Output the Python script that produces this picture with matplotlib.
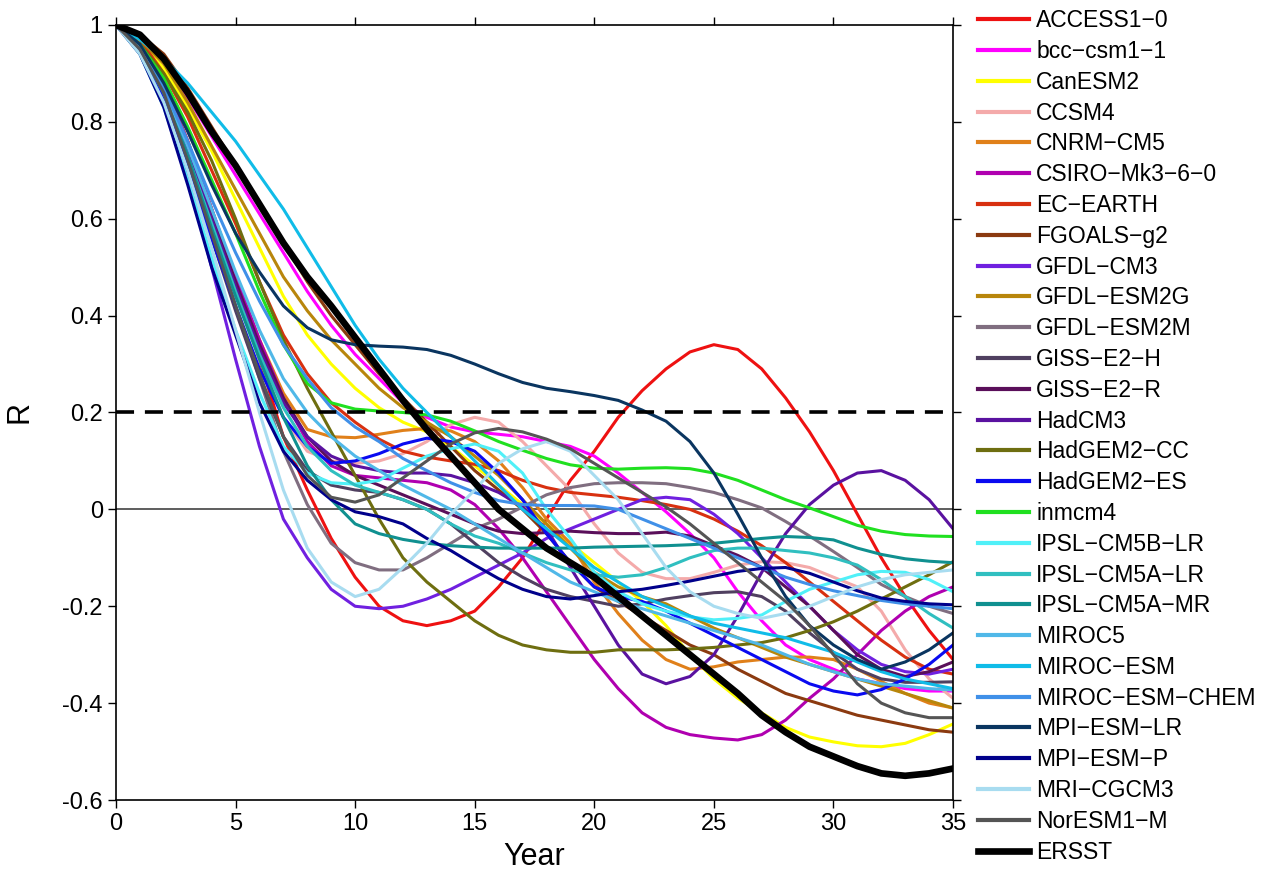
import numpy as np
import matplotlib.pyplot as plt
from matplotlib.ticker import FormatStrFormatter

plt.rcParams['font.family'] = ['Liberation Sans', 'DejaVu Sans']

years = np.arange(0, 36)

# lagged correlation, one list per model (years 0..35)
access10 = [1.0, 0.96, 0.88, 0.76, 0.62, 0.47, 0.31, 0.15, 0.04, -0.06, -0.14, -0.2, -0.23, -0.24, -0.23, -0.21, -0.16, -0.1,
            -0.02, 0.06, 0.12, 0.19, 0.245, 0.29, 0.325, 0.34, 0.33, 0.29, 0.23, 0.16, 0.08, -0.01, -0.1, -0.18, -0.25, -0.31]
bcc = [1.0, 0.97, 0.92, 0.85, 0.77, 0.69, 0.61, 0.53, 0.45, 0.38, 0.32, 0.27, 0.22, 0.19, 0.17, 0.16, 0.155, 0.15,
       0.14, 0.13, 0.11, 0.075, 0.035, -0.005, -0.05, -0.1, -0.17, -0.23, -0.28, -0.31, -0.33, -0.35, -0.36, -0.37, -0.375, -0.375]
canesm2 = [1.0, 0.97, 0.91, 0.83, 0.74, 0.64, 0.54, 0.44, 0.36, 0.3, 0.25, 0.21, 0.18, 0.16, 0.13, 0.09, 0.05, 0.01,
           -0.03, -0.07, -0.11, -0.15, -0.19, -0.24, -0.3, -0.35, -0.39, -0.42, -0.45, -0.47, -0.48, -0.488, -0.49, -0.483, -0.465, -0.443]
ccsm4 = [1.0, 0.96, 0.88, 0.75, 0.6, 0.45, 0.31, 0.19, 0.12, 0.1, 0.095, 0.1, 0.115, 0.14, 0.175, 0.19, 0.18, 0.14,
         0.09, 0.04, -0.03, -0.09, -0.13, -0.143, -0.143, -0.13, -0.115, -0.108, -0.11, -0.12, -0.14, -0.16, -0.21, -0.29, -0.35, -0.39]
cnrm = [1.0, 0.96, 0.88, 0.76, 0.62, 0.48, 0.35, 0.24, 0.165, 0.15, 0.148, 0.155, 0.163, 0.167, 0.162, 0.14, 0.1, 0.045,
        -0.02, -0.07, -0.15, -0.215, -0.27, -0.31, -0.33, -0.325, -0.315, -0.31, -0.305, -0.305, -0.31, -0.33, -0.355, -0.38, -0.4, -0.41]
csiro = [1.0, 0.96, 0.88, 0.76, 0.62, 0.48, 0.35, 0.23, 0.14, 0.09, 0.07, 0.065, 0.06, 0.055, 0.04, 0.01, -0.04, -0.1,
         -0.17, -0.24, -0.31, -0.37, -0.42, -0.45, -0.465, -0.472, -0.476, -0.465, -0.435, -0.39, -0.35, -0.3, -0.25, -0.21, -0.18, -0.16]
ecearth = [1.0, 0.97, 0.9, 0.81, 0.7, 0.59, 0.47, 0.36, 0.28, 0.22, 0.18, 0.145, 0.12, 0.108, 0.1, 0.093, 0.08, 0.06,
           0.045, 0.035, 0.03, 0.025, 0.018, 0.01, 0.0, -0.02, -0.045, -0.075, -0.11, -0.15, -0.19, -0.23, -0.27, -0.305, -0.33, -0.34]
fgoals = [1.0, 0.98, 0.94, 0.87, 0.79, 0.71, 0.63, 0.55, 0.47, 0.4, 0.34, 0.28, 0.23, 0.18, 0.13, 0.08, 0.04, 0.0,
          -0.05, -0.11, -0.16, -0.19, -0.22, -0.25, -0.28, -0.3, -0.33, -0.355, -0.38, -0.395, -0.41, -0.425, -0.435, -0.445, -0.455, -0.46]
gfdl_cm3 = [1.0, 0.95, 0.85, 0.69, 0.5, 0.31, 0.13, -0.02, -0.1, -0.165, -0.2, -0.205, -0.2, -0.185, -0.165, -0.14, -0.115, -0.09,
            -0.06, -0.04, -0.02, 0.0, 0.02, 0.025, 0.02, -0.01, -0.05, -0.1, -0.15, -0.2, -0.25, -0.29, -0.32, -0.335, -0.34, -0.33]
gfdl_esm2g = [1.0, 0.97, 0.92, 0.84, 0.75, 0.66, 0.57, 0.48, 0.41, 0.35, 0.3, 0.25, 0.21, 0.18, 0.15, 0.11, 0.07, 0.02,
              -0.03, -0.08, -0.13, -0.16, -0.18, -0.195, -0.22, -0.245, -0.265, -0.285, -0.305, -0.32, -0.335, -0.35, -0.365, -0.38, -0.395, -0.41]
gfdl_esm2m = [1.0, 0.95, 0.86, 0.72, 0.57, 0.42, 0.27, 0.12, 0.01, -0.07, -0.11, -0.125, -0.125, -0.1, -0.07, -0.04, -0.02, 0.005,
              0.03, 0.045, 0.053, 0.055, 0.055, 0.053, 0.045, 0.035, 0.02, 0.003, -0.025, -0.055, -0.087, -0.12, -0.155, -0.18, -0.2, -0.215]
giss_h = [1.0, 0.95, 0.85, 0.71, 0.56, 0.41, 0.27, 0.15, 0.08, 0.05, 0.04, 0.035, 0.02, 0.0, -0.03, -0.07, -0.11, -0.14,
          -0.165, -0.18, -0.19, -0.2, -0.195, -0.185, -0.178, -0.172, -0.17, -0.18, -0.21, -0.255, -0.295, -0.33, -0.35, -0.357, -0.357, -0.356]
giss_r = [1.0, 0.96, 0.87, 0.75, 0.61, 0.47, 0.34, 0.23, 0.15, 0.1, 0.07, 0.05, 0.03, 0.01, -0.01, -0.03, -0.045, -0.05,
          -0.048, -0.045, -0.048, -0.05, -0.05, -0.047, -0.055, -0.075, -0.095, -0.12, -0.16, -0.2, -0.25, -0.3, -0.33, -0.345, -0.335, -0.315]
hadcm3 = [1.0, 0.96, 0.87, 0.74, 0.6, 0.46, 0.33, 0.22, 0.15, 0.11, 0.09, 0.08, 0.075, 0.075, 0.07, 0.055, 0.035, 0.005,
          -0.04, -0.12, -0.2, -0.28, -0.34, -0.36, -0.345, -0.3, -0.22, -0.13, -0.05, 0.01, 0.05, 0.075, 0.08, 0.06, 0.02, -0.04]
hadgem2_cc = [1.0, 0.96, 0.9, 0.82, 0.72, 0.6, 0.47, 0.35, 0.25, 0.16, 0.07, -0.02, -0.1, -0.15, -0.19, -0.23, -0.26, -0.28,
              -0.29, -0.295, -0.295, -0.29, -0.29, -0.29, -0.288, -0.285, -0.28, -0.275, -0.265, -0.25, -0.232, -0.21, -0.185, -0.16, -0.135, -0.108]
hadgem2_es = [1.0, 0.95, 0.85, 0.71, 0.56, 0.42, 0.29, 0.19, 0.13, 0.095, 0.1, 0.115, 0.135, 0.147, 0.14, 0.12, 0.075, 0.02,
              -0.05, -0.11, -0.16, -0.18, -0.19, -0.21, -0.235, -0.26, -0.285, -0.31, -0.335, -0.36, -0.375, -0.383, -0.372, -0.35, -0.32, -0.28]
inmcm4 = [1.0, 0.96, 0.89, 0.79, 0.68, 0.57, 0.45, 0.34, 0.26, 0.22, 0.207, 0.203, 0.2, 0.195, 0.182, 0.162, 0.14, 0.122,
          0.105, 0.092, 0.085, 0.083, 0.085, 0.086, 0.084, 0.075, 0.06, 0.04, 0.02, 0.003, -0.015, -0.033, -0.045, -0.052, -0.055, -0.056]
ipsl_5b_lr = [1.0, 0.94, 0.83, 0.68, 0.52, 0.37, 0.24, 0.13, 0.075, 0.055, 0.052, 0.06, 0.085, 0.11, 0.125, 0.135, 0.12, 0.075,
              0.0, -0.06, -0.13, -0.17, -0.195, -0.21, -0.222, -0.228, -0.225, -0.218, -0.19, -0.165, -0.15, -0.135, -0.128, -0.13, -0.145, -0.17]
ipsl_5a_lr = [1.0, 0.95, 0.86, 0.73, 0.59, 0.45, 0.32, 0.21, 0.13, 0.08, 0.05, 0.035, 0.02, 0.0, -0.03, -0.055, -0.07, -0.09,
              -0.11, -0.125, -0.135, -0.14, -0.135, -0.12, -0.1, -0.085, -0.08, -0.08, -0.085, -0.09, -0.1, -0.115, -0.145, -0.18, -0.215, -0.245]
ipsl_5a_mr = [1.0, 0.95, 0.86, 0.73, 0.58, 0.44, 0.31, 0.19, 0.09, 0.02, -0.03, -0.05, -0.062, -0.07, -0.075, -0.078, -0.08, -0.08,
              -0.08, -0.08, -0.078, -0.077, -0.076, -0.075, -0.073, -0.07, -0.065, -0.06, -0.056, -0.058, -0.063, -0.08, -0.093, -0.102, -0.107, -0.11]
miroc5 = [1.0, 0.95, 0.87, 0.75, 0.62, 0.49, 0.37, 0.27, 0.2, 0.15, 0.11, 0.08, 0.05, 0.025, 0.0, -0.03, -0.06, -0.09,
          -0.12, -0.15, -0.17, -0.19, -0.205, -0.22, -0.235, -0.25, -0.265, -0.28, -0.3, -0.32, -0.335, -0.35, -0.36, -0.365, -0.37, -0.373]
miroc_esm = [1.0, 0.97, 0.93, 0.88, 0.82, 0.76, 0.69, 0.62, 0.54, 0.46, 0.38, 0.31, 0.25, 0.2, 0.15, 0.1, 0.05, 0.0,
             -0.04, -0.08, -0.12, -0.15, -0.18, -0.2, -0.22, -0.235, -0.245, -0.255, -0.265, -0.28, -0.295, -0.315, -0.335, -0.35, -0.36, -0.37]
miroc_chem = [1.0, 0.95, 0.87, 0.76, 0.64, 0.53, 0.43, 0.34, 0.27, 0.21, 0.17, 0.14, 0.105, 0.08, 0.055, 0.035, 0.018, 0.01,
              0.008, 0.008, 0.007, 0.0, -0.02, -0.04, -0.06, -0.08, -0.1, -0.12, -0.14, -0.155, -0.168, -0.178, -0.188, -0.195, -0.2, -0.205]
mpi_lr = [1.0, 0.96, 0.88, 0.78, 0.67, 0.57, 0.49, 0.42, 0.375, 0.35, 0.34, 0.337, 0.335, 0.33, 0.318, 0.3, 0.28, 0.262,
          0.25, 0.243, 0.235, 0.225, 0.205, 0.182, 0.14, 0.075, -0.01, -0.1, -0.18, -0.24, -0.28, -0.31, -0.33, -0.315, -0.29, -0.255]
mpi_p = [1.0, 0.94, 0.83, 0.67, 0.5, 0.36, 0.22, 0.12, 0.06, 0.02, -0.005, -0.015, -0.03, -0.06, -0.085, -0.115, -0.143, -0.165,
         -0.18, -0.185, -0.178, -0.17, -0.165, -0.157, -0.148, -0.138, -0.128, -0.122, -0.12, -0.132, -0.15, -0.168, -0.183, -0.19, -0.195, -0.197]
mri = [1.0, 0.94, 0.84, 0.7, 0.54, 0.37, 0.2, 0.04, -0.08, -0.15, -0.18, -0.165, -0.12, -0.07, -0.01, 0.04, 0.095, 0.125,
       0.14, 0.12, 0.07, 0.02, -0.05, -0.12, -0.17, -0.2, -0.215, -0.225, -0.215, -0.2, -0.18, -0.16, -0.145, -0.135, -0.13, -0.125]
noresm = [1.0, 0.95, 0.86, 0.72, 0.57, 0.42, 0.28, 0.15, 0.07, 0.025, 0.015, 0.03, 0.065, 0.1, 0.135, 0.158, 0.167, 0.16,
          0.145, 0.125, 0.095, 0.065, 0.035, 0.005, -0.03, -0.07, -0.11, -0.15, -0.19, -0.24, -0.3, -0.36, -0.4, -0.42, -0.43, -0.43]
ersst = [1.0, 0.98, 0.93, 0.86, 0.78, 0.71, 0.63, 0.55, 0.48, 0.42, 0.355, 0.29, 0.225, 0.165, 0.11, 0.055, 0.0, -0.04,
         -0.08, -0.11, -0.14, -0.18, -0.22, -0.26, -0.30, -0.34, -0.38, -0.425, -0.46, -0.49, -0.51, -0.53, -0.545, -0.55, -0.545, -0.535]

models = [
    ('ACCESS1\u22120', access10, '#ee1111'),
    ('bcc\u2212csm1\u22121', bcc, '#ff00ff'),
    ('CanESM2', canesm2, '#ffff00'),
    ('CCSM4', ccsm4, '#f4aaaa'),
    ('CNRM\u2212CM5', cnrm, '#e0801a'),
    ('CSIRO\u2212Mk3\u22126\u22120', csiro, '#b000b0'),
    ('EC\u2212EARTH', ecearth, '#d83010'),
    ('FGOALS\u2212g2', fgoals, '#8b3a10'),
    ('GFDL\u2212CM3', gfdl_cm3, '#7020e0'),
    ('GFDL\u2212ESM2G', gfdl_esm2g, '#b8860b'),
    ('GFDL\u2212ESM2M', gfdl_esm2m, '#806e80'),
    ('GISS\u2212E2\u2212H', giss_h, '#504060'),
    ('GISS\u2212E2\u2212R', giss_r, '#5a0f5a'),
    ('HadCM3', hadcm3, '#5a12a0'),
    ('HadGEM2\u2212CC', hadgem2_cc, '#6e6e10'),
    ('HadGEM2\u2212ES', hadgem2_es, '#0a0af0'),
    ('inmcm4', inmcm4, '#20e020'),
    ('IPSL\u2212CM5B\u2212LR', ipsl_5b_lr, '#50f0f8'),
    ('IPSL\u2212CM5A\u2212LR', ipsl_5a_lr, '#30bfc0'),
    ('IPSL\u2212CM5A\u2212MR', ipsl_5a_mr, '#109090'),
    ('MIROC5', miroc5, '#50b8e8'),
    ('MIROC\u2212ESM', miroc_esm, '#10bce8'),
    ('MIROC\u2212ESM\u2212CHEM', miroc_chem, '#4090e8'),
    ('MPI\u2212ESM\u2212LR', mpi_lr, '#0a3560'),
    ('MPI\u2212ESM\u2212P', mpi_p, '#00008b'),
    ('MRI\u2212CGCM3', mri, '#a8dcf0'),
    ('NorESM1\u2212M', noresm, '#555555'),
]

y_ticks = [-0.6, -0.4, -0.2, 0, 0.2, 0.4, 0.6, 0.8, 1]

fig = plt.figure(figsize=(12.66, 8.73), dpi=100)
ax = fig.add_axes([0.0916, 0.0836, 0.6612, 0.8878])

handles = []
for name, vals, col in models:
    h, = ax.plot(years, vals, color=col, lw=2.2, label=name)
    handles.append(h)
h, = ax.plot(years, ersst, color='black', lw=4.8, label='ERSST', zorder=5)
handles.append(h)

# reference lines: zero and the 0.2 threshold
ax.axhline(0, color='#505050', lw=1.3, zorder=1)
ax.axhline(0.2, color='black', lw=2.6, ls=(0, (5, 3)), zorder=6)

ax.set_xlim(0, 35)
ax.set_ylim(-0.6, 1)
ax.set_xticks(np.arange(0, 36, 5))
ax.set_yticks(y_ticks)
ax.yaxis.set_major_formatter(FormatStrFormatter('%g'))
ax.tick_params(direction='out', top=True, right=True, length=6, width=1, labelsize=17)
for s in ax.spines.values():
    s.set_linewidth(1.2)
ax.set_xlabel('Year', fontsize=22, labelpad=5)
ax.set_ylabel('R', fontsize=22, labelpad=20)

leg = fig.legend(handles=handles, loc='upper left', bbox_to_anchor=(0.7705, 0.992),
                 frameon=False, fontsize=16.5, handlelength=2.25, handletextpad=0.3,
                 labelspacing=0.34, borderaxespad=0, borderpad=0.1)
for lh in leg.get_lines()[:-1]:
    lh.set_linewidth(3)

plt.savefig('out.png', dpi=100)
